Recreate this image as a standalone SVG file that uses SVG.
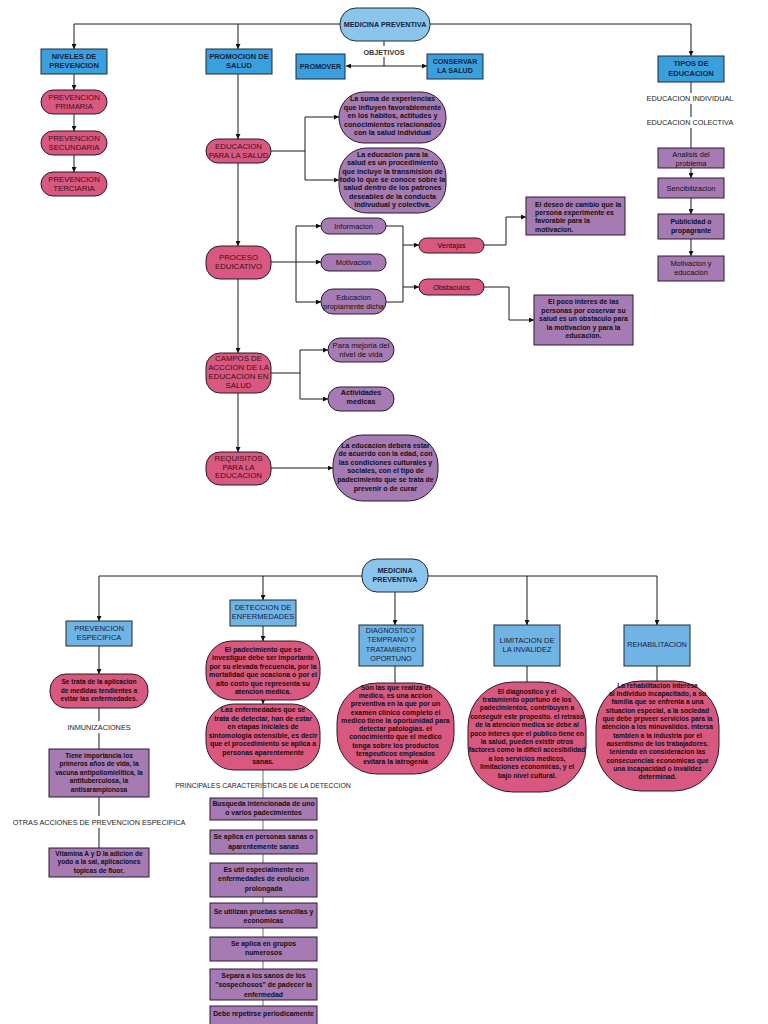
<svg xmlns="http://www.w3.org/2000/svg" width="768" height="1024" viewBox="0 0 768 1024">
<style>
.bl{fill:#3a9fdd;stroke:#1e2b3a;stroke-width:1}
.bl2{fill:#70b3e5;stroke:#1e2b3a;stroke-width:1}
.ti{fill:#8cc5ec;stroke:#1e2b3a;stroke-width:1}
.pk{fill:#d9587f;stroke:#2a1a22;stroke-width:1}
.pu{fill:#a67ab3;stroke:#2a1a2e;stroke-width:1}
.c{fill:none;stroke:#1a1a1a;stroke-width:1}
.g{fill:none;stroke:#8a8a8a;stroke-width:1.2}
text{font-family:"Liberation Sans",Arial,sans-serif;font-size:7px;fill:#111;text-anchor:middle}
.d{font-weight:bold;font-size:6.9px}
.d2{font-weight:bold;font-size:7.2px}
.d3{font-weight:bold;font-size:6.6px}
.d4{font-weight:bold;font-size:6.9px}
.s{font-size:7.4px}
.tb{font-weight:bold;fill:#13233f;font-size:7.5px}
.bt{fill:#13233f;font-size:7.5px}
.tp{fill:#3a0f1e;font-size:7.8px}
.tl{text-anchor:start}
.lb{font-size:7.3px;fill:#222}
</style>
<defs>
<marker id="ah" viewBox="0 0 10 10" refX="10" refY="5" markerWidth="5" markerHeight="5" orient="auto" markerUnits="userSpaceOnUse"><path d="M0,0 L10,5 L0,10 z" fill="#111"/></marker>
</defs>
<rect width="768" height="1024" fill="#fff"/>

<g id="connectors">
<path class="c" d="M340,24 H74 V49" marker-end="url(#ah)"/>
<path class="c" d="M238,24 V49" marker-end="url(#ah)"/>
<path class="c" d="M430,24 H691 V56" marker-end="url(#ah)"/>
<path class="c" d="M74,74 V90" marker-end="url(#ah)"/>
<path class="c" d="M74,114 V131" marker-end="url(#ah)"/>
<path class="c" d="M74,155 V172" marker-end="url(#ah)"/>
<path class="c" d="M384,41 V46 M384,57 V66"/>
<path class="c" d="M384,66 H346" marker-end="url(#ah)"/>
<path class="c" d="M384,66 H427" marker-end="url(#ah)"/>
<path class="c" d="M691,82 V93 M691,104 V117 M691,128 V148"/>
<path class="c" d="M691,168 V178" marker-end="url(#ah)"/>
<path class="c" d="M691,198 V214" marker-end="url(#ah)"/>
<path class="c" d="M691,239 V256" marker-end="url(#ah)"/>
<path class="c" d="M238,74 V139" marker-end="url(#ah)"/>
<path class="c" d="M271,151 H305 M305,117 V180"/>
<path class="c" d="M305,117 H339" marker-end="url(#ah)"/>
<path class="c" d="M305,180 H339" marker-end="url(#ah)"/>
<path class="c" d="M238,163 V246" marker-end="url(#ah)"/>
<path class="c" d="M271,262 H321" marker-end="url(#ah)"/>
<path class="c" d="M296,226 V302"/>
<path class="c" d="M296,226 H321" marker-end="url(#ah)"/>
<path class="c" d="M296,302 H321" marker-end="url(#ah)"/>
<path class="c" d="M386,226 H403 V302 H386"/>
<path class="c" d="M403,245 H419" marker-end="url(#ah)"/>
<path class="c" d="M403,287 H419" marker-end="url(#ah)"/>
<path class="c" d="M484,245 H506 V217 H526" marker-end="url(#ah)"/>
<path class="c" d="M484,287 H509 V320 H534" marker-end="url(#ah)"/>
<path class="c" d="M238,279 V353" marker-end="url(#ah)"/>
<path class="c" d="M271,373 H300 M300,350 V399"/>
<path class="c" d="M300,350 H328" marker-end="url(#ah)"/>
<path class="c" d="M300,399 H328" marker-end="url(#ah)"/>
<path class="c" d="M238,393 V452" marker-end="url(#ah)"/>
<path class="c" d="M271,468 H333" marker-end="url(#ah)"/>
<path class="c" d="M362,576 H99 V621" marker-end="url(#ah)"/>
<path class="c" d="M263,576 V600" marker-end="url(#ah)"/>
<path class="c" d="M428,576 H657 V625" marker-end="url(#ah)"/>
<path class="c" d="M527,576 V625" marker-end="url(#ah)"/>
<path class="c" d="M395,592 V625" marker-end="url(#ah)"/>
<path class="c" d="M99,646 V674" marker-end="url(#ah)"/>
<path class="c" d="M99,708 V721 M99,733 V749 M99,797 V816 M99,828 V848"/>
<path class="c" d="M263,626 V641" marker-end="url(#ah)"/>
<path class="c" d="M263,700 V704" marker-end="url(#ah)"/>
<path class="g" d="M263,770 V1024"/>
<path class="c" d="M395,666 V683 M527,666 V682 M657,666 V681"/>
</g>

<g id="medicina-preventiva-1"><rect class="ti" x="340" y="8" width="90" height="33" rx="16"/><text class="tb" x="385" y="27" style="font-size:7.2px">MEDICINA PREVENTIVA</text></g>
<g id="niveles"><rect class="bl" x="41" y="49" width="66" height="25"/><text class="tb"><tspan x="74" y="58.5">NIVELES DE</tspan><tspan x="74" y="68">PREVENCION</tspan></text></g>
<g id="promocion"><rect class="bl" x="206" y="49" width="66" height="25"/><text class="tb"><tspan x="239" y="58.5">PROMOCION DE</tspan><tspan x="239" y="68">SALUD</tspan></text></g>
<g id="primaria"><rect class="pk" x="41" y="90" width="66" height="24" rx="12"/><text class="tp"><tspan x="74" y="99.8">PREVENCION</tspan><tspan x="74" y="109.3">PRIMARIA</tspan></text></g>
<g id="secundaria"><rect class="pk" x="41" y="131" width="66" height="24" rx="12"/><text class="tp"><tspan x="74" y="140.8">PREVENCION</tspan><tspan x="74" y="150.3">SECUNDARIA</tspan></text></g>
<g id="terciaria"><rect class="pk" x="41" y="172" width="66" height="24" rx="12"/><text class="tp"><tspan x="74" y="181.8">PREVENCION</tspan><tspan x="74" y="191.3">TERCIARIA</tspan></text></g>
<g id="objetivos"><text x="384" y="54.5" style="font-weight:bold;font-size:7.2px;fill:#333">OBJETIVOS</text></g>
<g id="promover"><rect class="bl" x="296" y="54" width="49" height="25"/><text class="tb" x="320.5" y="69.2" style="font-size:7.1px">PROMOVER</text></g>
<g id="conservar"><rect class="bl" x="427" y="54" width="56" height="25"/><text class="tb" style="font-size:7.1px"><tspan x="455" y="63.5">CONSERVAR</tspan><tspan x="455" y="72.8">LA SALUD</tspan></text></g>
<g id="tipos"><rect class="bl" x="658" y="56" width="66" height="26"/><text class="tb"><tspan x="691" y="66.3">TIPOS DE</tspan><tspan x="691" y="75.8">EDUCACION</tspan></text></g>
<g id="edu-individual"><text class="lb" x="690" y="101.3">EDUCACION INDIVIDUAL</text></g>
<g id="edu-colectiva"><text class="lb" x="690" y="124.8">EDUCACION COLECTIVA</text></g>
<g id="analisis"><rect class="pu" x="658" y="148" width="66" height="20"/><text class="s"><tspan x="691" y="156.5">Analisis del</tspan><tspan x="691" y="165.5">problema</tspan></text></g>
<g id="sencibilizacion"><rect class="pu" x="658" y="178" width="66" height="20"/><text class="s" x="691" y="190.5">Sencibilizacion</text></g>
<g id="publicidad"><rect class="pu" x="658" y="214" width="66" height="25"/><text class="d"><tspan x="691" y="224">Publicidad o</tspan><tspan x="691" y="232.8">propagrante</tspan></text></g>
<g id="motivacion-edu"><rect class="pu" x="658" y="256" width="66" height="25"/><text class="s"><tspan x="691" y="266">Motivacion y</tspan><tspan x="691" y="274.8">educacion</tspan></text></g>
<g id="educacion-salud"><rect class="pk" x="206" y="139" width="65" height="24" rx="12"/><text class="tp"><tspan x="238.5" y="149.2">EDUCACION</tspan><tspan x="238.5" y="158.3">PARA LA SALUD</tspan></text></g>
<g id="suma"><rect class="pu" x="339" y="92" width="107" height="51" rx="25"/><text class="d2"><tspan x="392.5" y="101.3">La suma de experiencias</tspan><tspan x="392.5" y="109.8">que influyen favorablemente</tspan><tspan x="392.5" y="118.3">en los habitos, actitudes y</tspan><tspan x="392.5" y="126.8">conocimientos relacionados</tspan><tspan x="392.5" y="135.3">con la salud individual</tspan></text></g>
<g id="educacion-def"><rect class="pu" x="339" y="148" width="107" height="65" rx="28"/><text class="d2"><tspan x="392.5" y="156.7">La educacion para la</tspan><tspan x="392.5" y="165.1">salud es un procedimiento</tspan><tspan x="392.5" y="173.5">que incluye la transmision de</tspan><tspan x="392.5" y="181.9">todo lo que se conoce sobre la</tspan><tspan x="392.5" y="190.3">salud dentro de los patrones</tspan><tspan x="392.5" y="198.7">deseables de la conducta</tspan><tspan x="392.5" y="207.1">indivudual y colectiva.</tspan></text></g>
<g id="proceso"><rect class="pk" x="206" y="246" width="65" height="33" rx="14"/><text class="tp"><tspan x="238.5" y="259.8">PROCESO</tspan><tspan x="238.5" y="268.8">EDUICATIVO</tspan></text></g>
<g id="informacion"><rect class="pu" x="321" y="218" width="65" height="16" rx="8"/><text class="s" x="353.5" y="228.7">Informacion</text></g>
<g id="motivacion"><rect class="pu" x="321" y="254" width="65" height="17" rx="8"/><text class="s" x="353.5" y="265.2">Motivacion</text></g>
<g id="propiamente"><rect class="pu" x="321" y="289" width="65" height="25" rx="12"/><text class="s"><tspan x="353.5" y="299.8">Educacion</tspan><tspan x="353.5" y="308.7">propiamente dicha</tspan></text></g>
<g id="ventajas"><rect class="pk" x="419" y="238" width="65" height="15" rx="7.5"/><text class="s" x="451.5" y="248.2">Ventajas</text></g>
<g id="obstaculos"><rect class="pk" x="419" y="279" width="65" height="16" rx="8"/><text class="s" x="451.5" y="289.7">Obstaculos</text></g>
<g id="deseo"><rect class="pu" x="526" y="197" width="99" height="38"/><text class="d tl"><tspan x="535" y="206.5">El deseo de cambio que la</tspan><tspan x="535" y="214.9">persona experimente es</tspan><tspan x="535" y="223.3">favorable para la</tspan><tspan x="535" y="231.7">motivacion.</tspan></text></g>
<g id="poco-interes"><rect class="pu" x="534" y="295" width="99" height="50"/><text class="d"><tspan x="583.5" y="304.2">El poco interes de las</tspan><tspan x="583.5" y="312.7">personas por coservar su</tspan><tspan x="583.5" y="321.2">salud es un obstaculo para</tspan><tspan x="583.5" y="329.7">la motivacion y para la</tspan><tspan x="583.5" y="338.2">educacion.</tspan></text></g>
<g id="campos"><rect class="pk" x="206" y="353" width="65" height="40" rx="14"/><text class="tp"><tspan x="238.5" y="361.2">CAMPOS DE</tspan><tspan x="238.5" y="370">ACCCION DE LA</tspan><tspan x="238.5" y="378.8">EDUCACION EN</tspan><tspan x="238.5" y="387.6">SALUD</tspan></text></g>
<g id="mejoria"><rect class="pu" x="328" y="338" width="66" height="24" rx="12"/><text class="s" style="font-size:7.8px"><tspan x="361" y="347.7">Para mejoria del</tspan><tspan x="361" y="357.2">nivel de vida</tspan></text></g>
<g id="actividades"><rect class="pu" x="328" y="387" width="66" height="24" rx="12"/><text class="d" style="font-size:7.2px"><tspan x="361" y="395.2">Actividades</tspan><tspan x="361" y="404.2">medicas</tspan></text></g>
<g id="requisitos"><rect class="pk" x="206" y="452" width="65" height="33" rx="14"/><text class="tp"><tspan x="238.5" y="461.2">REQUISITOS</tspan><tspan x="238.5" y="469.7">PARA LA</tspan><tspan x="238.5" y="478.4">EDUCACION</tspan></text></g>
<g id="debera"><rect class="pu" x="333" y="435" width="105" height="66" rx="30"/><text class="d" style="font-size:7px"><tspan x="385.5" y="447.6">La educacion debera estar</tspan><tspan x="385.5" y="456.2">de acuerdo con la edad, con</tspan><tspan x="385.5" y="464.8">las condiciones culturales y</tspan><tspan x="385.5" y="473.4">sociales, con el tipo de</tspan><tspan x="385.5" y="482">padecimiento que se trata de</tspan><tspan x="385.5" y="490.6">prevenir o de curar</tspan></text></g>

<g id="medicina-preventiva-2"><rect class="ti" x="362" y="559" width="66" height="33" rx="15"/><text class="tb" style="font-size:7.1px"><tspan x="395" y="572.5">MEDICINA</tspan><tspan x="395" y="581.5">PREVENTIVA</tspan></text></g>
<g id="prev-especifica"><rect class="bl2" x="66" y="621" width="66" height="25"/><text class="bt"><tspan x="99" y="630.5">PREVENCION</tspan><tspan x="99" y="640.2">ESPECIFICA</tspan></text></g>
<g id="se-trata"><rect class="pk" x="50" y="674" width="98" height="34" rx="16"/><text class="d3"><tspan x="99" y="684.2">Se trata de la aplicacion</tspan><tspan x="99" y="692.7">de medidas tendientes a</tspan><tspan x="99" y="701.2">evitar las enfermedades.</tspan></text></g>
<g id="inmunizaciones"><text class="lb" x="99" y="729.7">INMUNIZACIONES</text></g>
<g id="tiene"><rect class="pu" x="49" y="749" width="100" height="48"/><text class="d3"><tspan x="99" y="757.6">Tiene importancia los</tspan><tspan x="99" y="766">primeros años de vida, la</tspan><tspan x="99" y="774.6">vacuna antipoliomielitica, la</tspan><tspan x="99" y="783.3">antituberculosa, la</tspan><tspan x="99" y="792.1">antisarampionosa</tspan></text></g>
<g id="otras"><text class="lb" x="99" y="824.7">OTRAS ACCIONES DE PREVENCION ESPECIFICA</text></g>
<g id="vitamina"><rect class="pu" x="49" y="848" width="100" height="29"/><text class="d3"><tspan x="99" y="855.7">Vitamina A y D la adicion de</tspan><tspan x="99" y="864.2">yodo a la sal, aplicaciones</tspan><tspan x="99" y="872.7">topicas de fluor.</tspan></text></g>
<g id="deteccion"><rect class="bl2" x="230" y="600" width="66" height="26"/><text class="bt"><tspan x="263" y="610.2">DETECCION DE</tspan><tspan x="263" y="619.4">ENFERMEDADES</tspan></text></g>
<g id="padecimiento"><rect class="pk" x="206" y="641" width="114" height="59" rx="26"/><text class="d"><tspan x="263" y="651.9">El padecimiento que se</tspan><tspan x="263" y="660.3">investigue debe ser importante</tspan><tspan x="263" y="668.7">por su elevada frecuencia, por la</tspan><tspan x="263" y="677.1">mortalidad que ocaciona o por el</tspan><tspan x="263" y="685.5">alto costo que representa su</tspan><tspan x="263" y="693.9">atencion medica.</tspan></text></g>
<g id="enfermedades"><rect class="pk" x="206" y="704" width="114" height="66" rx="28"/><text class="d"><tspan x="263" y="711.9">Las enfermedades que se</tspan><tspan x="263" y="720.5">trata de detectar, han de estar</tspan><tspan x="263" y="729.1">en etapas iniciales de</tspan><tspan x="263" y="737.7">sintomologia ostensible, es decir</tspan><tspan x="263" y="746.3">que el procedimiento se aplica a</tspan><tspan x="263" y="754.9">personas aparentemente</tspan><tspan x="263" y="763.5">sanas.</tspan></text></g>
<g id="principales"><text class="lb" x="263" y="787.7" style="font-size:6.9px">PRINCIPALES CARACTERISTICAS DE LA DETECCION</text></g>
<g id="c1"><rect class="pu" x="210" y="798" width="107" height="22"/><text class="d4"><tspan x="263.5" y="806.2">Busqueda intencionada de uno</tspan><tspan x="263.5" y="815.2">o varios padecimientos</tspan></text></g>
<g id="c2"><rect class="pu" x="210" y="830" width="107" height="24"/><text class="d4"><tspan x="263.5" y="839.2">Se aplica en personas sanas o</tspan><tspan x="263.5" y="848.5">aparentemente sanas</tspan></text></g>
<g id="c3"><rect class="pu" x="210" y="863" width="107" height="34"/><text class="d4"><tspan x="263.5" y="871.9">Es util especialmente en</tspan><tspan x="263.5" y="881.4">enfermedades de evolucion</tspan><tspan x="263.5" y="890.9">prolongada</tspan></text></g>
<g id="c4"><rect class="pu" x="210" y="903" width="107" height="25"/><text class="d4"><tspan x="263.5" y="914.2">Se utilizan pruebas sencillas y</tspan><tspan x="263.5" y="922.6">economicas</tspan></text></g>
<g id="c5"><rect class="pu" x="210" y="937" width="107" height="24"/><text class="d4"><tspan x="263.5" y="945.9">Se aplica en grupos</tspan><tspan x="263.5" y="955.2">numerosos</tspan></text></g>
<g id="c6"><rect class="pu" x="210" y="969" width="107" height="31"/><text class="d4"><tspan x="263.5" y="977.6">Separa a los sanos de los</tspan><tspan x="263.5" y="987.2">"sospechosos" de padecer la</tspan><tspan x="263.5" y="996.6">enfermedad</tspan></text></g>
<g id="c7"><rect class="pu" x="210" y="1006" width="107" height="26"/><text class="d4" x="263.5" y="1016.2">Debe repetirse periodicamente</text></g>
<g id="diagnostico"><rect class="bl2" x="359" y="625" width="64" height="41"/><text class="bt" style="font-size:7.2px"><tspan x="391" y="632.6">DIAGNOSTICO</tspan><tspan x="391" y="642.4">TEMPRANO Y</tspan><tspan x="391" y="651.9">TRATAMIENTO</tspan><tspan x="391" y="660.9">OPORTUNO</tspan></text></g>
<g id="son-las"><rect class="pk" x="337" y="683" width="117" height="91" rx="40"/><text class="d"><tspan x="395.5" y="689.6">Son las que realiza el</tspan><tspan x="395.5" y="697.9">medico, es una accion</tspan><tspan x="395.5" y="706.2">preventiva en la que por un</tspan><tspan x="395.5" y="714.5">examen clinico completo el</tspan><tspan x="395.5" y="722.8">medico tiene la oportunidad para</tspan><tspan x="395.5" y="731.1">detectar patologias. el</tspan><tspan x="395.5" y="739.4">conocimiento que el medico</tspan><tspan x="395.5" y="747.7">tenga sobre los productos</tspan><tspan x="395.5" y="756">terapeuticos empleados</tspan><tspan x="395.5" y="764.3">evitara la iatrogenia</tspan></text></g>
<g id="limitacion"><rect class="bl2" x="494" y="625" width="66" height="41"/><text class="bt"><tspan x="527" y="642.6">LIMITACION DE</tspan><tspan x="527" y="651.9">LA INVALIDEZ</tspan></text></g>
<g id="diagnostico-y"><rect class="pk" x="468" y="682" width="118" height="110" rx="45"/><text class="d" style="font-size:6.7px"><tspan x="527" y="693.6">El diagnostico y el</tspan><tspan x="527" y="702">tratamiento oportuno de los</tspan><tspan x="527" y="710.4">padecimientos, contribuyen a</tspan><tspan x="527" y="718.8">conseguir este proposito. el retraso</tspan><tspan x="527" y="727.2">de la atencion medica se debe al</tspan><tspan x="527" y="735.6">poco interes que el publico tiene en</tspan><tspan x="527" y="744">la salud, pueden existir otros</tspan><tspan x="527" y="752.4">factores como la dificil accesibilidad</tspan><tspan x="527" y="760.8">a los servicios medicos,</tspan><tspan x="527" y="769.2">limitaciones economicas,  y el</tspan><tspan x="527" y="777.6">bajo nivel cultural.</tspan></text></g>
<g id="rehabilitacion"><rect class="bl2" x="624" y="625" width="66" height="41"/><text class="bt" x="657" y="647.2" style="font-size:7.2px">REHABILITACION</text></g>
<g id="rehab-texto"><rect class="pk" x="596" y="681" width="123" height="110" rx="45"/><text class="d" style="font-size:6.7px"><tspan x="657.5" y="687.8">La rehabilitacion interesa</tspan><tspan x="657.5" y="696.1">al individuo incapacitado, a su</tspan><tspan x="657.5" y="704.4">familia que se enfrenta a una</tspan><tspan x="657.5" y="712.7">situacion especial, a la sociedad</tspan><tspan x="657.5" y="721">que debe prpveer servicios para la</tspan><tspan x="657.5" y="729.3">atencion a los minuvalidos. intersa</tspan><tspan x="657.5" y="737.6">tambien a la industria por el</tspan><tspan x="657.5" y="745.9">ausentismo de los trabajadores.</tspan><tspan x="657.5" y="754.2">teniendo en consideracion las</tspan><tspan x="657.5" y="762.5">consecuencias economicas que</tspan><tspan x="657.5" y="770.8">una incapacidad o invalidez</tspan><tspan x="657.5" y="779.1">determinad.</tspan></text></g>
</svg>
